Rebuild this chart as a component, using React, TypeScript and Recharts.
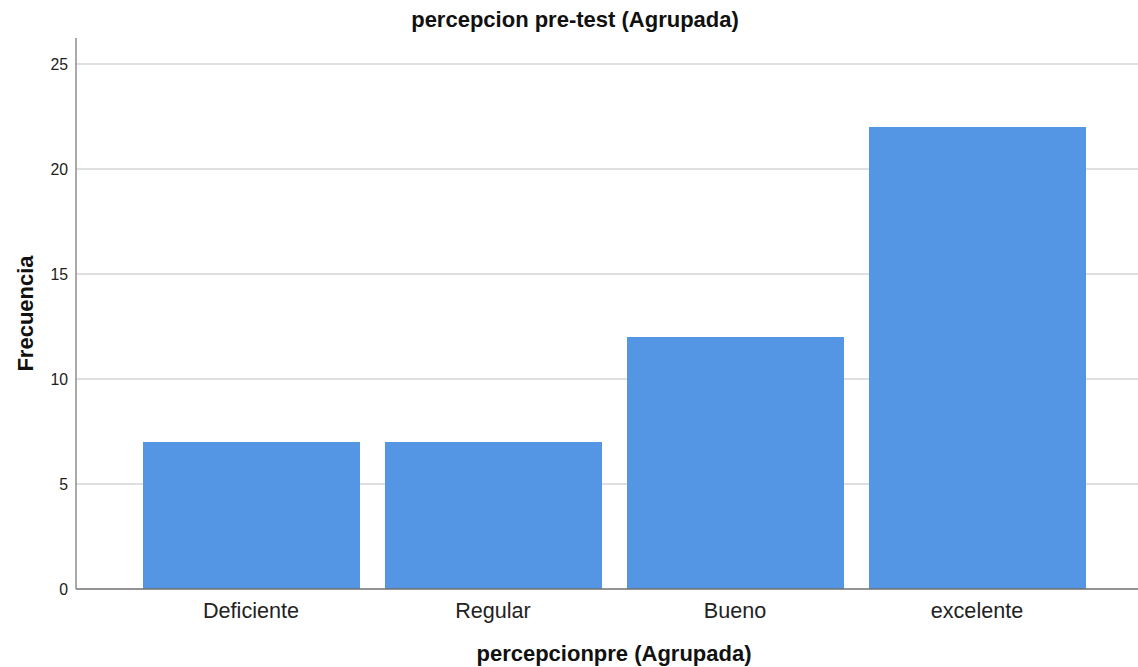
import { BarChart, Bar, XAxis, YAxis, CartesianGrid } from 'recharts';

const categories = ['Deficiente', 'Regular', 'Bueno', 'excelente'];
const frecuencias = [7, 7, 12, 22];
const yTicks = [0, 5, 10, 15, 20, 25];
const Y_MAX = 26.24;

const data = categories.map((name, i) => ({ name, value: frecuencias[i] }));

const FONT = '"Liberation Sans", Arial, sans-serif';
const PAD_LEFT = 54;
const PAD_RIGHT = 40;

function XTitle(props: any) {
  const { x, y, width } = props.viewBox;
  const cx = x + PAD_LEFT + (width - PAD_LEFT - PAD_RIGHT) / 2;
  return (
    <text x={cx} y={y + 72} textAnchor="middle" fontFamily={FONT} fontSize={22} fontWeight="bold" fill="#111">
      percepcionpre (Agrupada)
    </text>
  );
}

function YTitle(props: any) {
  const { y, height } = props.viewBox;
  const cx = 33;
  const cy = y + height / 2;
  return (
    <text x={cx} y={cy} transform={`rotate(-90, ${cx}, ${cy})`} textAnchor="middle" fontFamily={FONT} fontSize={22} fontWeight="bold" fill="#111">
      Frecuencia
    </text>
  );
}

// grid lines only at the tick values (no line along the plot's top edge)
const gridAtTicks = (props: any) => {
  const scale = props.yAxis?.scale;
  if (typeof scale === 'function') return yTicks.filter((t) => t > 0).map((t) => scale(t));
  const { top, height } = props.offset;
  return yTicks.filter((t) => t > 0).map((t) => top + height * (1 - t / Y_MAX));
};

export default function App() {
  return (
    <div style={{ position: 'absolute', left: 0, top: 0, width: 1138, height: 667, background: '#fff' }}>
      <div
        style={{
          position: 'absolute',
          left: 575,
          top: 9,
          transform: 'translateX(-50%)',
          whiteSpace: 'nowrap',
          fontFamily: FONT,
          fontSize: 22,
          lineHeight: '22px',
          fontWeight: 'bold',
          color: '#111',
        }}
      >
        percepcion pre-test (Agrupada)
      </div>
      <BarChart
        width={1138}
        height={667}
        data={data}
        margin={{ top: 38, right: 0, bottom: 0, left: 0 }}
      >
        <CartesianGrid
          vertical={false}
          stroke="#d4d4d4"
          strokeWidth={1.5}
          horizontalCoordinatesGenerator={gridAtTicks}
        />
        <XAxis
          dataKey="name"
          height={78}
          padding={{ left: PAD_LEFT, right: PAD_RIGHT }}
          tickLine={false}
          tickMargin={8}
          stroke="#6f6f6f"
          strokeWidth={1.5}
          tick={{ fontFamily: FONT, fontSize: 21.6, fill: '#222' }}
          label={XTitle}
        />
        <YAxis
          width={76}
          domain={[0, Y_MAX]}
          ticks={yTicks}
          allowDataOverflow
          tickLine={false}
          stroke="#8c8c8c"
          strokeWidth={1.5}
          tick={{ fontFamily: FONT, fontSize: 15.8, fill: '#222' }}
          label={YTitle}
        />
        <Bar dataKey="value" fill="#5596e4" barSize={217} isAnimationActive={false} />
      </BarChart>
    </div>
  );
}
